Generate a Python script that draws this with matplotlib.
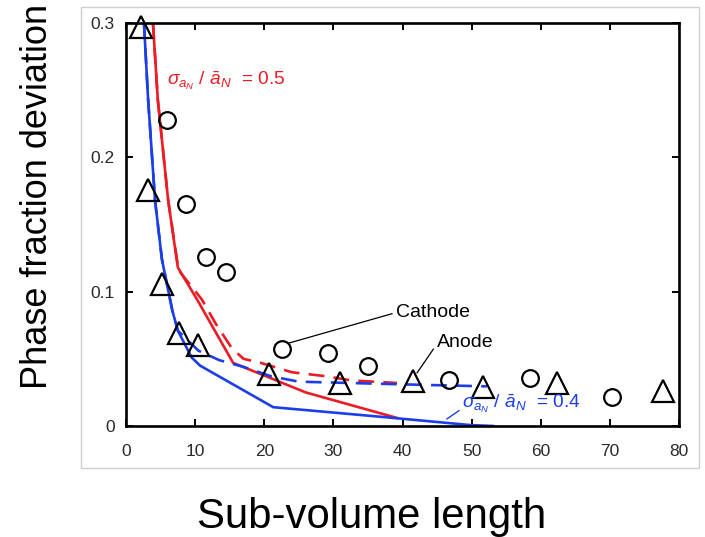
import matplotlib
matplotlib.use("Agg")
import matplotlib.pyplot as plt
from matplotlib.patches import Rectangle

plt.rcParams['font.family'] = ['Liberation Sans', 'DejaVu Sans']
plt.rcParams['mathtext.fontset'] = 'custom'
plt.rcParams['mathtext.rm'] = 'Liberation Sans'
plt.rcParams['mathtext.it'] = 'Liberation Sans:italic'
plt.rcParams['mathtext.bf'] = 'Liberation Sans:bold'

# ---------------- data ----------------
anode_x = [2.2, 3.2, 5.2, 7.7, 10.4, 20.7, 30.9, 41.5, 51.7, 62.3, 77.7]
anode_y = [0.297, 0.176, 0.106, 0.069, 0.060, 0.039, 0.032, 0.0335, 0.029, 0.032, 0.026]

cathode_x = [5.9, 8.7, 11.6, 14.5, 22.6, 29.2, 35.0, 46.7, 58.4, 70.3]
cathode_y = [0.228, 0.165, 0.126, 0.115, 0.057, 0.054, 0.045, 0.034, 0.036, 0.0216]

red_solid_x = [3.9, 4.6, 6.1, 7.5, 10.3, 15.5, 26.0, 39.2]
red_solid_y = [0.300, 0.243, 0.168, 0.118, 0.094, 0.047, 0.025, 0.006]

red_dash_x = [3.9, 4.6, 6.1, 7.6, 11.0, 13.0, 15.3, 17.0, 19.5, 24.0, 29.0, 32.5, 39.2]
red_dash_y = [0.300, 0.243, 0.168, 0.116, 0.094, 0.076, 0.058, 0.050, 0.047, 0.040, 0.037, 0.034, 0.032]

blue_solid_x = [2.6, 3.2, 4.2, 5.2, 6.7, 7.5, 9.5, 10.7, 21.3, 37.2, 49.8, 53.1]
blue_solid_y = [0.300, 0.243, 0.168, 0.124, 0.086, 0.071, 0.051, 0.045, 0.014, 0.0067, 0.0007, 0.0]

blue_dash_x = [2.6, 3.2, 4.2, 5.2, 6.7, 7.5, 10.5, 13.5, 17.0, 21.0, 25.0, 40.0, 52.2]
blue_dash_y = [0.300, 0.243, 0.168, 0.124, 0.086, 0.071, 0.056, 0.049, 0.044, 0.037, 0.033, 0.031, 0.0295]

x_ticks = [0, 10, 20, 30, 40, 50, 60, 70, 80]
y_ticks = [0, 0.1, 0.2, 0.3]
y_tick_labels = ['0', '0.1', '0.2', '0.3']

RED = '#ec1c24'
BLUE = '#1c3ee8'

W, H = 705, 537
fig = plt.figure(figsize=(W / 100, H / 100), dpi=100)
ax = fig.add_axes([126 / W, 1 - 426 / H, (679 - 126) / W, (426 - 23) / H])

lw = 1.9
ax.plot(red_solid_x, red_solid_y, color=RED, lw=lw, zorder=2)
ax.plot(red_dash_x, red_dash_y, color=RED, lw=lw, ls=(0, (6, 3.5)), zorder=2)
ax.plot(blue_solid_x, blue_solid_y, color=BLUE, lw=lw, zorder=2)
ax.plot(blue_dash_x, blue_dash_y, color=BLUE, lw=lw, ls=(0, (6, 3.5)), zorder=2)

ax.plot(anode_x, anode_y, ls='none', marker='^', ms=16.5, mfc='none',
        mec='black', mew=1.6, zorder=3, clip_on=False)
ax.plot(cathode_x, cathode_y, ls='none', marker='o', ms=12, mfc='none',
        mec='black', mew=1.6, zorder=3, clip_on=False)

ax.set_xlim(0, 80)
ax.set_ylim(0, 0.3)
ax.set_xticks(x_ticks)
ax.set_xticklabels([str(t) for t in x_ticks])
ax.set_yticks(y_ticks)
ax.set_yticklabels(y_tick_labels)
ax.tick_params(direction='in', length=5, width=1.4, top=True, right=True,
               labelsize=12.5, labelcolor='#2a2a2a')
ax.tick_params(axis='x', pad=13)
ax.tick_params(axis='y', pad=8)
for sp in ax.spines.values():
    sp.set_linewidth(1.9)

# annotations
ax.text(5.9, 0.257, r'$\sigma_{a_N}$ / $\bar{a}_N$  = 0.5', color=RED, fontsize=13.8,
        ha='left', va='center')
ax.annotate(r'$\sigma_{a_N}$ / $\bar{a}_N$  = 0.4', xy=(46.4, 0.0052), xytext=(48.6, 0.0163),
            color=BLUE, fontsize=13.8, ha='left', va='center',
            arrowprops=dict(arrowstyle='-', color=BLUE, lw=1.0, shrinkA=0, shrinkB=0,
                            relpos=(0, 0.3)))
ax.annotate('Cathode', xy=(23.4, 0.0615), xytext=(39.1, 0.0845), fontsize=14,
            ha='left', va='center',
            arrowprops=dict(arrowstyle='-', color='black', lw=0.9, shrinkA=1, shrinkB=0,
                            relpos=(0, 0.5)))
ax.annotate('Anode', xy=(42.1, 0.0395), xytext=(45.0, 0.0625), fontsize=14,
            ha='left', va='center',
            arrowprops=dict(arrowstyle='-', color='black', lw=0.9, shrinkA=1, shrinkB=0,
                            relpos=(0, 0.4)))

# axis labels
fig.text(38 / W, 1 - 196 / H, 'Phase fraction deviation', rotation=90,
         fontsize=26, ha='center', va='center')
fig.text(372 / W, 1 - 528 / H, 'Sub-volume length', fontsize=30.2,
         ha='center', va='baseline')

# light gray frame
fig.patches.append(Rectangle((81 / W, 1 - 468 / H), (699 - 81) / W, (468 - 7) / H,
                             transform=fig.transFigure, fill=False,
                             edgecolor='#cfcfcf', lw=1.0))

fig.savefig('out.png', dpi=100)
